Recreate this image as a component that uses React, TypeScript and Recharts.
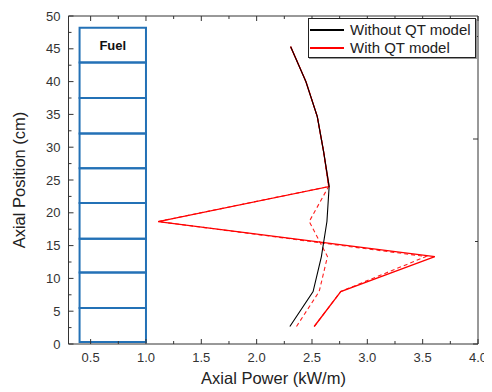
import React from 'react';
import { LineChart, Line, XAxis, YAxis, ReferenceArea, Label } from 'recharts';

// Axial positions (cm) of the nodes (cell centres)
const positions = [2.67, 8.0, 13.33, 18.67, 24.0, 29.33, 34.67, 40.0, 45.33];
// Axial power (kW/m)
const withoutQT = [2.3, 2.51, 2.585, 2.635, 2.655, 2.605, 2.548, 2.445, 2.307];
const withQT = [2.52, 2.76, 3.61, 1.11, 2.655, 2.605, 2.548, 2.445, 2.307];
const withQTDashed = [2.36, 2.565, 2.64, 2.475, 2.65, 2.605, 2.548, 2.445, 2.307];
const withQTDashedSpike = [2.52, 2.76, 3.53, 1.11, 2.65, 2.605, 2.548, 2.445, 2.307];

// Fuel column drawing (cell boundaries, cm) and its x extent (kW/m axis units)
const fuelBounds = [0.3, 5.5, 10.9, 16.05, 21.5, 26.8, 32.1, 37.5, 42.9, 48.2];
const fuelX = [0.4, 1.0];

const xTicks = [0.5, 0.75, 1.0, 1.25, 1.5, 1.75, 2.0, 2.25, 2.5, 2.75, 3.0, 3.25, 3.5, 3.75, 4.0];
const yTicks = [0, 2.5, 5, 7.5, 10, 12.5, 15, 17.5, 20, 22.5, 25, 27.5, 30, 32.5, 35, 37.5, 40, 42.5, 45, 47.5, 50];
const xMajor = ['0.5', '1.0', '1.5', '2.0', '2.5', '3.0', '3.5', '4.0'];
const yMajor = ['0', '5', '10', '15', '20', '25', '30', '35', '40', '45', '50'];

const data = positions.map((y, i) => ({
  y,
  noqt: withoutQT[i],
  qt: withQT[i],
  qtd: withQTDashed[i],
  qtds: withQTDashedSpike[i],
}));

const FONT = '"Liberation Sans", Arial, sans-serif';
const AXIS = '#333';
const BLUE = '#2371b6';

const BottomTick = (p: any) => {
  const v = p.payload.value;
  const lbl = xMajor.find((s) => Math.abs(parseFloat(s) - v) < 1e-6);
  return (
    <g>
      <line x1={p.x} x2={p.x} y1={p.y} y2={p.y - (lbl ? 5 : 3)} stroke={AXIS} />
      {lbl && (
        <text x={p.x} y={p.y + 18} textAnchor="middle" fontSize={13} fill="#333" fontFamily={FONT}>
          {lbl}
        </text>
      )}
    </g>
  );
};

const TopTick = (p: any) => {
  const v = p.payload.value;
  const major = xMajor.some((s) => Math.abs(parseFloat(s) - v) < 1e-6);
  return <line x1={p.x} x2={p.x} y1={p.y} y2={p.y + (major ? 5 : 3)} stroke={AXIS} />;
};

const LeftTick = (p: any) => {
  const v = p.payload.value;
  const lbl = yMajor.find((s) => Math.abs(parseFloat(s) - v) < 1e-6);
  return (
    <g>
      <line x1={p.x} x2={p.x + (lbl ? 5 : 3)} y1={p.y} y2={p.y} stroke={AXIS} />
      {lbl && (
        <text x={p.x - 8} y={p.y} dy="0.36em" textAnchor="end" fontSize={13} fill="#333" fontFamily={FONT}>
          {lbl}
        </text>
      )}
    </g>
  );
};

const RightTick = (p: any) => {
  const v = p.payload.value;
  const major = yMajor.some((s) => Math.abs(parseFloat(s) - v) < 1e-6);
  return <line x1={p.x} x2={p.x - (major ? 5 : 3)} y1={p.y} y2={p.y} stroke={AXIS} />;
};

const LegendBox = () => (
  <div
    style={{
      position: 'absolute',
      left: 300,
      top: 10,
      width: 166,
      height: 38,
      border: '1px solid #222',
      boxShadow: '1px 1px 0 #999',
      background: '#fff',
      fontFamily: FONT,
      fontSize: 15,
      color: '#222',
    }}
  >
    {[
      { name: 'Without QT model', color: '#000', top: 11 },
      { name: 'With QT model', color: '#ff0000', top: 29 },
    ].map((e) => (
      <div key={e.name}>
        <div style={{ position: 'absolute', left: 1, top: e.top - 1, width: 34, height: 1.5, background: e.color }} />
        <div style={{ position: 'absolute', left: 41, top: e.top - 9, lineHeight: '18px', whiteSpace: 'nowrap' }}>{e.name}</div>
      </div>
    ))}
  </div>
);

export default function App() {
  return (
    <div style={{ position: 'relative', width: 484, height: 384 }}>
      <LineChart
        width={484}
        height={384}
        layout="vertical"
        data={data}
        margin={{ top: 7, right: 13, bottom: 18, left: 10.5 }}
        style={{ fontFamily: FONT }}
      >
        <XAxis
          type="number"
          xAxisId={0}
          domain={[0.3, 4]}
          ticks={xTicks}
          interval={0}
          allowDataOverflow
          tickSize={0}
          tickMargin={0}
          tickLine={false}
          axisLine={{ stroke: AXIS }}
          height={30}
          tick={(p: any) => <BottomTick {...p} />}
        >
          <Label
            content={() => (
              <text x={265.5} y={376} textAnchor="middle" fontSize={16.5} fill="#222" fontFamily={FONT}>
                Axial Power (kW/m)
              </text>
            )}
          />
        </XAxis>
        <XAxis
          type="number"
          xAxisId="t"
          orientation="top"
          domain={[0.3, 4]}
          ticks={xTicks}
          interval={0}
          allowDataOverflow
          tickSize={0}
          tickMargin={0}
          tickLine={false}
          axisLine={{ stroke: AXIS }}
          height={1}
          tick={(p: any) => <TopTick {...p} />}
        />
        <YAxis
          type="number"
          yAxisId={0}
          dataKey="y"
          domain={[0, 50]}
          reversed
          ticks={yTicks}
          interval={0}
          allowDataOverflow
          tickSize={0}
          tickMargin={0}
          tickLine={false}
          axisLine={{ stroke: AXIS }}
          width={50}
          tick={(p: any) => <LeftTick {...p} />}
        >
          <Label
            content={() => (
              <text
                x={10.8}
                y={172}
                transform="rotate(-90 10.8 172)"
                textAnchor="middle"
                dominantBaseline="central"
                fontSize={16.5}
                fill="#222"
                fontFamily={FONT}
              >
                Axial Position (cm)
              </text>
            )}
          />
        </YAxis>
        <YAxis
          type="number"
          yAxisId="r"
          orientation="right"
          domain={[0, 50]}
          reversed
          ticks={yTicks}
          interval={0}
          allowDataOverflow
          tickSize={0}
          tickMargin={0}
          tickLine={false}
          axisLine={{ stroke: AXIS }}
          width={1}
          tick={(p: any) => <RightTick {...p} />}
        />
        {fuelBounds.slice(0, -1).map((b, i) => (
          <ReferenceArea
            key={i}
            x1={fuelX[0]}
            x2={fuelX[1]}
            y1={b}
            y2={fuelBounds[i + 1]}
            fill="none"
            fillOpacity={0}
            stroke={BLUE}
            strokeWidth={2}
            strokeOpacity={1}
          >
            {i === fuelBounds.length - 2 && (
              <Label value="Fuel" position="center" fontSize={13} fontWeight="bold" fill="#111" fontFamily={FONT} />
            )}
          </ReferenceArea>
        ))}
        <Line dataKey="qtd" stroke="#ff2020" strokeWidth={1.1} strokeDasharray="4 3" dot={false} isAnimationActive={false} type="linear" />
        <Line dataKey="qtds" stroke="#ff2020" strokeWidth={1.1} strokeDasharray="4 3" dot={false} isAnimationActive={false} type="linear" />
        <Line dataKey="qt" stroke="#ff0000" strokeWidth={1.3} dot={false} isAnimationActive={false} type="linear" />
        <Line dataKey="noqt" stroke="#000" strokeWidth={1.1} dot={false} isAnimationActive={false} type="linear" />
      </LineChart>
      <LegendBox />
    </div>
  );
}
